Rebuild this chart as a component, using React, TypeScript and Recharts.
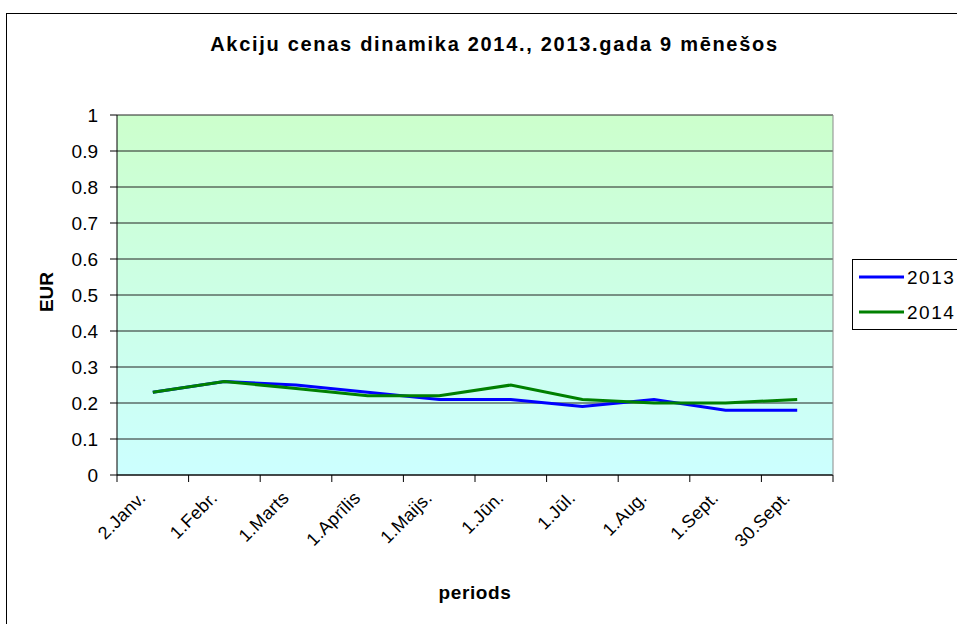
import { LineChart, Line, XAxis, YAxis, CartesianGrid } from "recharts"

// Share price, EUR, on the first trading day of each month (9 months)
const periods = ["2.Janv.", "1.Febr.", "1.Marts", "1.Aprīlis", "1.Maijs.", "1.Jūn.", "1.Jūl.", "1.Aug.", "1.Sept.", "30.Sept."]
const price2013 = [0.23, 0.26, 0.25, 0.23, 0.21, 0.21, 0.19, 0.21, 0.18, 0.18]
const price2014 = [0.23, 0.26, 0.24, 0.22, 0.22, 0.25, 0.21, 0.2, 0.2, 0.21]
const eurTicks = [0, 0.1, 0.2, 0.3, 0.4, 0.5, 0.6, 0.7, 0.8, 0.9, 1]

const series = [
  { key: "y2013", name: "2013", color: "#0000ff" },
  { key: "y2014", name: "2014", color: "#008000" },
]

const data = periods.map((period, i) => ({ period, y2013: price2013[i], y2014: price2014[i] }))

const FONT = "'Liberation Sans', Arial, sans-serif"

// label + Excel-style tick marks between categories (payload.offset = half band)
function PeriodTick({ x, y, payload, index, visibleTicksCount }: any) {
  const half = payload.offset ?? 0
  return (
    <g>
      <line x1={x - half} x2={x - half} y1={y} y2={y + 7} stroke="#000" />
      {index === visibleTicksCount - 1 && <line x1={x + half} x2={x + half} y1={y} y2={y + 7} stroke="#000" />}
      <g transform={`translate(${x - 6},${y + 24})`}>
        <text x={0} y={0} textAnchor="end" transform="rotate(-45)" fontSize={18} letterSpacing={0.3} fill="#000" fontFamily={FONT}>
          {payload.value}
        </text>
      </g>
    </g>
  )
}

function PeriodsLabel({ viewBox }: any) {
  return (
    <text x={viewBox.x + viewBox.width / 2} y={viewBox.y + 124} textAnchor="middle" fontSize={19} fontWeight="bold" letterSpacing={0.6} fill="#000" fontFamily={FONT}>
      periods
    </text>
  )
}

function EurLabel({ viewBox }: any) {
  const x = viewBox.x - 4
  const y = viewBox.y + viewBox.height / 2 - 3
  return (
    <text x={x} y={y} transform={`rotate(-90 ${x} ${y})`} textAnchor="middle" fontSize={19} fontWeight="bold" fill="#000" fontFamily={FONT}>
      EUR
    </text>
  )
}

export default function App() {
  return (
    <div style={{ position: "absolute", left: 0, top: 0, width: 957, height: 624, background: "#fff", overflow: "hidden", fontFamily: FONT }}>
      <LineChart width={957} height={624} data={data} margin={{ top: 115, right: 123, bottom: 49, left: 57 }}>
        <defs>
          <linearGradient id="plotBg" x1="0" y1="0" x2="0" y2="1">
            <stop offset="0%" stopColor="#ccffcc" />
            <stop offset="100%" stopColor="#ccffff" />
          </linearGradient>
        </defs>
        <CartesianGrid vertical={false} fill="url(#plotBg)" fillOpacity={1} stroke="#222" strokeWidth={1} />
        <XAxis
          dataKey="period"
          scale="band"
          interval={0}
          tickLine={false}
          tickSize={0}
          tickMargin={0}
          stroke="#000"
          height={100}
          tick={<PeriodTick />}
          label={<PeriodsLabel />}
        />
        <YAxis
          domain={[0, 1]}
          ticks={eurTicks}
          tickSize={7}
          tickMargin={12}
          width={60}
          stroke="#000"
          tick={{ fontSize: 19, fill: "#000", fontFamily: FONT }}
          label={<EurLabel />}
        />
        <YAxis yAxisId="frame" orientation="right" domain={[0, 1]} width={1} tick={false} tickLine={false} stroke="#8a8a8a" />
        {series.map((s) => (
          <Line
            key={s.key}
            dataKey={s.key}
            name={s.name}
            stroke={s.color}
            strokeWidth={3}
            dot={false}
            isAnimationActive={false}
          />
        ))}
      </LineChart>
      <svg width={957} height={624} style={{ position: "absolute", left: 0, top: 0, pointerEvents: "none" }}>
        <rect x={6.5} y={13.5} width={1000} height={700} fill="none" stroke="#000" />
        <text x={494.5} y={51} textAnchor="middle" fontSize={20} fontWeight="bold" letterSpacing={1.7} fill="#000" fontFamily={FONT}>
          Akciju cenas dinamika 2014., 2013.gada 9 mēnešos
        </text>
        <rect x={852.5} y={259.5} width={200} height={70} fill="#fff" stroke="#000" />
        {series.map((s, i) => (
          <g key={s.key}>
            <line x1={859} x2={904} y1={277 + i * 35} y2={277 + i * 35} stroke={s.color} strokeWidth={3} />
            <text x={907} y={284 + i * 35} fontSize={19} letterSpacing={1.5} fill="#000" fontFamily={FONT}>
              {s.name}
            </text>
          </g>
        ))}
      </svg>
    </div>
  )
}
